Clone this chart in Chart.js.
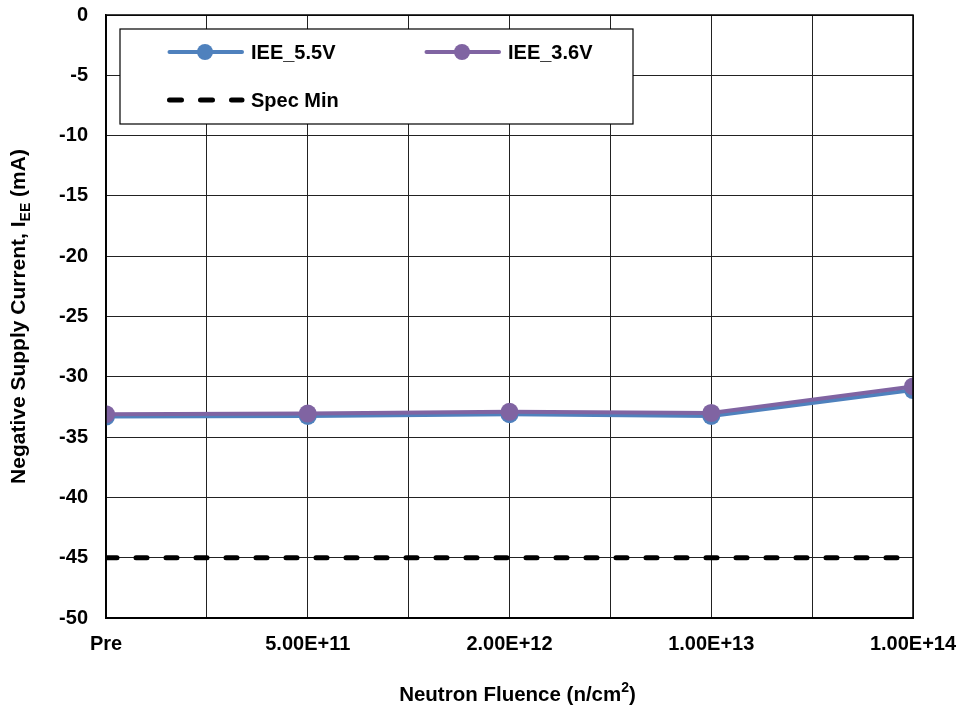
<!DOCTYPE html>
<html>
<head>
<meta charset="utf-8">
<script src="https://cdn.jsdelivr.net/npm/chart.js@4.4.1/dist/chart.umd.min.js"></script>
<style>
  html, body { margin: 0; padding: 0; background: #fff; }
  #wrap { width: 961px; height: 707px; }
</style>
</head>
<body>
<div id="wrap"><canvas id="chart" width="961" height="707"></canvas></div>
<script>
// fluence steps, drawn on every other grid column
const categories = ['Pre', '5.00E+11', '2.00E+12', '1.00E+13', '1.00E+14'];
const iee55 = [-33.3, -33.25, -33.1, -33.25, -31.1];
const iee36 = [-33.1, -33.05, -32.9, -33.0, -30.8];
const specMin = -45;
const yTicks = [0, -5, -10, -15, -20, -25, -30, -35, -40, -45, -50];

const BLUE = '#4F81BD';
const PURPLE = '#8064A2';
const FONT = 'Arial, "Liberation Sans", sans-serif';

const toPoints = vals => vals.map((v, i) => ({ x: i * 2, y: v }));

// plot frame, in-plot legend and axis titles with sub/superscripts
const decorations = {
  id: 'decorations',
  afterDraw(chart) {
    const ctx = chart.ctx;
    const a = chart.chartArea;
    ctx.save();

    ctx.strokeStyle = '#000';
    ctx.lineWidth = 1.5;
    ctx.strokeRect(a.left, a.top, a.right - a.left, a.bottom - a.top);

    // legend box
    ctx.fillStyle = '#fff';
    ctx.fillRect(120, 29, 513, 95);
    ctx.lineWidth = 1.2;
    ctx.strokeRect(120, 29, 513, 95);

    const items = [
      { x: 167, y: 52, label: 'IEE_5.5V', color: BLUE, marker: true },
      { x: 424, y: 52, label: 'IEE_3.6V', color: PURPLE, marker: true },
      { x: 167, y: 100, label: 'Spec Min', color: '#000', marker: false }
    ];
    items.forEach(it => {
      ctx.strokeStyle = it.color;
      ctx.lineWidth = it.marker ? 4 : 5;
      ctx.lineCap = 'round';
      if (!it.marker) ctx.setLineDash([12, 19]);
      ctx.beginPath();
      ctx.moveTo(it.x + 2.5, it.y);
      ctx.lineTo(it.x + 75, it.y);
      ctx.stroke();
      ctx.setLineDash([]);
      if (it.marker) {
        ctx.fillStyle = it.color;
        ctx.beginPath();
        ctx.arc(it.x + 38, it.y, 8, 0, Math.PI * 2);
        ctx.fill();
      }
      ctx.fillStyle = '#000';
      ctx.font = 'bold 20px ' + FONT;
      ctx.textBaseline = 'middle';
      ctx.textAlign = 'left';
      ctx.fillText(it.label, it.x + 84, it.y + 1);
    });

    // x title
    ctx.fillStyle = '#000';
    ctx.textBaseline = 'alphabetic';
    const main = 'Neutron Fluence (n/cm';
    ctx.font = 'bold 20.5px ' + FONT;
    const w1 = ctx.measureText(main).width;
    ctx.font = 'bold 14px ' + FONT;
    const w2 = ctx.measureText('2').width;
    ctx.font = 'bold 20.5px ' + FONT;
    const w3 = ctx.measureText(')').width;
    let x0 = (a.left + a.right) / 2 + 8 - (w1 + w2 + w3) / 2;
    const yb = 701;
    ctx.textAlign = 'left';
    ctx.fillText(main, x0, yb);
    ctx.font = 'bold 14px ' + FONT;
    ctx.fillText('2', x0 + w1, yb - 9);
    ctx.font = 'bold 20.5px ' + FONT;
    ctx.fillText(')', x0 + w1 + w2, yb);

    // y title (rotated)
    ctx.translate(25, (a.top + a.bottom) / 2);
    ctx.rotate(-Math.PI / 2);
    const p1 = 'Negative Supply Current, I';
    const p3 = ' (mA)';
    ctx.font = 'bold 21px ' + FONT;
    const v1 = ctx.measureText(p1).width;
    const v3 = ctx.measureText(p3).width;
    ctx.font = 'bold 14px ' + FONT;
    const v2 = ctx.measureText('EE').width;
    let s = -(v1 + v2 + v3) / 2;
    ctx.font = 'bold 21px ' + FONT;
    ctx.fillText(p1, s, 0);
    ctx.font = 'bold 14px ' + FONT;
    ctx.fillText('EE', s + v1, 5);
    ctx.font = 'bold 21px ' + FONT;
    ctx.fillText(p3, s + v1 + v2, 0);

    ctx.restore();
  }
};

new Chart(document.getElementById('chart'), {
  type: 'line',
  data: {
    datasets: [
      {
        label: 'IEE_5.5V',
        data: toPoints(iee55),
        borderColor: BLUE,
        backgroundColor: BLUE,
        borderWidth: 4,
        pointRadius: 9,
        pointBorderWidth: 0,
        order: 2
      },
      {
        label: 'IEE_3.6V',
        data: toPoints(iee36),
        borderColor: PURPLE,
        backgroundColor: PURPLE,
        borderWidth: 4,
        pointRadius: 9,
        pointBorderWidth: 0,
        order: 1
      },
      {
        label: 'Spec Min',
        data: [{ x: 0, y: specMin }, { x: (categories.length - 1) * 2, y: specMin }],
        borderColor: '#000',
        borderWidth: 5,
        borderDash: [11, 19],
        borderCapStyle: 'round',
        pointRadius: 0,
        order: 3
      }
    ]
  },
  options: {
    responsive: false,
    animation: false,
    layout: { padding: { top: 15, right: 48, left: 0, bottom: 0 } },
    plugins: { legend: { display: false }, tooltip: { enabled: false } },
    scales: {
      x: {
        type: 'linear',
        min: 0,
        max: (categories.length - 1) * 2,
        afterFit: s => { s.height = 89; s.paddingLeft = 0; s.paddingRight = 0; },
        afterBuildTicks: s => {
          s.ticks = [];
          for (let i = 0; i <= (categories.length - 1) * 2; i++) s.ticks.push({ value: i });
        },
        grid: { color: '#222', lineWidth: 1, drawTicks: false },
        border: { color: '#000', width: 2 },
        ticks: {
          autoSkip: false,
          maxRotation: 0,
          padding: 14,
          color: '#000',
          font: { family: FONT, size: 20, weight: 'bold' },
          callback: v => (v % 2 === 0 ? categories[v / 2] : '')
        }
      },
      y: {
        min: -50,
        max: 0,
        afterFit: s => { s.width = 106; s.paddingTop = 0; s.paddingBottom = 0; },
        afterBuildTicks: s => { s.ticks = yTicks.map(v => ({ value: v })); },
        grid: { color: '#222', lineWidth: 1, drawTicks: false },
        border: { color: '#000', width: 1.5 },
        ticks: {
          padding: 18,
          color: '#000',
          font: { family: FONT, size: 20, weight: 'bold' }
        }
      }
    }
  },
  plugins: [decorations]
});
</script>
</body>
</html>
